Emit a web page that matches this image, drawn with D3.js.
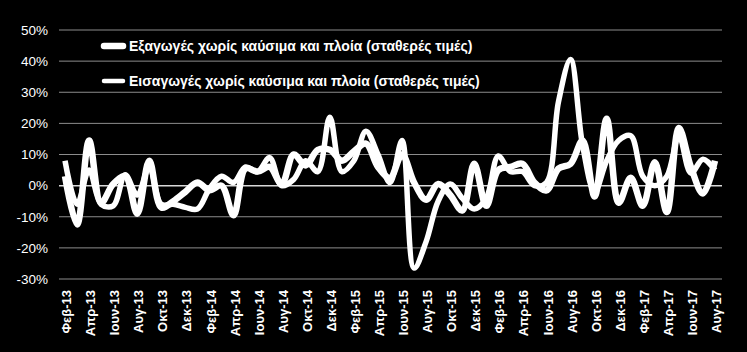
<!DOCTYPE html>
<html>
<head>
<meta charset="utf-8">
<script src="https://cdn.jsdelivr.net/npm/d3@7"></script>
<style>
  body { margin: 0; background: #000; }
  svg { display: block; }
</style>
</head>
<body>
<div id="chart"></div>
<script>
var width = 747
var height = 352

// months Feb-13 .. Aug-17
var monthNames = ["Ιαν", "Φεβ", "Μαρ", "Απρ", "Μαϊ", "Ιουν", "Ιουλ", "Αυγ", "Σεπ", "Οκτ", "Νοε", "Δεκ"]
var months = []
for (var y = 13, m = 1; months.length < 55; m++) {
    if (m == 12) { m = 0; y++; }
    months.push(monthNames[m] + "-" + y)
}

var exports = [3, -12.5, 14.5, -5.5, 0.5, 3, -9, 8, -7, -5,
    -2, 1, -1.5, 0, -9.5, 5.5, 4.5, 6, 0.5, 10,
    6.5, 11.5, 11.5, 8, 11, 13.5, 6, 2.5, 10, 1,
    -4.5, 0.5, -3, -8, 7, -6.5, 5, 6, 7, 1,
    -1.5, 5.5, 7, 14.5, -3.5, 21.5, -5.5, 2.5, -6.5, 7.5,
    -8.5, 18.5, 6, -2.5, 8]

var imports = [8, -6, 5, -6, -6.5, 3.5, -3, 6, -6, -6,
    -7, -7.5, -1, 3, 1, 6, 4.5, 9, 0, 2,
    8, 4.5, 22, 4.5, 8, 17.5, 10, 1, 14.5, -26.5,
    -18, -5, 0.5, -4, -7.5, -4, 9.5, 4.5, 4.5, 0,
    1, 27, 40.5, 13, -2, 8, 14.5, 16, 3, 0,
    3, 16, 4, 8.5, 5]

var yTicks = [-30, -20, -10, 0, 10, 20, 30, 40, 50]
var legendLabels = ["Εξαγωγές χωρίς καύσιμα και πλοία (σταθερές τιμές)",
    "Εισαγωγές χωρίς καύσιμα και πλοία (σταθερές τιμές)"]

var svg = d3.select("#chart").append("svg")
    .attr("width", width)
    .attr("height", height)
    .style("background", "#000")

var x = d3.scalePoint().domain(months).range([59, 721]).padding(0.5)
var yScale = d3.scaleLinear().domain([-30, 50]).range([279, 30])

// grid
svg.append("g").selectAll("line")
    .data(yTicks)
    .enter().append("line")
        .attr("x1", 59)
        .attr("x2", 722)
        .attr("y1", function(d) { return yScale(d); })
        .attr("y2", function(d) { return yScale(d); })
        .attr("stroke", function(d) { return d == 0 ? "#d9d9d9" : "#8c8c8c"; })
        .attr("stroke-width", function(d) { return d == 0 ? 1.5 : 1; })

var yAxis = svg.append("g")
    .attr("transform", "translate(48,0)")
    .call(d3.axisLeft(yScale).tickValues(yTicks).tickSize(0).tickPadding(0)
        .tickFormat(function(d) { return d + "%"; }))
yAxis.select(".domain").remove()
yAxis.selectAll("text")
    .attr("fill", "#fff")
    .style("font-family", "'Liberation Sans', Arial, sans-serif")
    .style("font-size", "13.5px")

var xAxis = svg.append("g")
    .attr("transform", "translate(1,290)")
    .call(d3.axisBottom(x).tickSize(0)
        .tickValues(months.filter(function(d, i) { return i % 2 == 0; })))
xAxis.select(".domain").remove()
xAxis.selectAll("text")
    .attr("fill", "#fff")
    .attr("transform", "rotate(-90)")
    .attr("x", 0)
    .attr("y", 0)
    .attr("dy", "0.35em")
    .attr("text-anchor", "end")
    .style("font-family", "'Liberation Sans', Arial, sans-serif")
    .style("font-size", "13px")
    .style("font-weight", "bold")

var line = d3.line()
    .x(function(d, i) { return x(months[i]); })
    .y(function(d) { return yScale(d); })
    .curve(d3.curveCatmullRom.alpha(0.5))

svg.append("path")
    .datum(imports)
    .attr("d", line)
    .attr("fill", "none")
    .attr("stroke", "#fff")
    .attr("stroke-width", 5.5)
    .attr("stroke-linejoin", "round")

svg.append("path")
    .datum(exports)
    .attr("d", line)
    .attr("fill", "none")
    .attr("stroke", "#fff")
    .attr("stroke-width", 6.5)
    .attr("stroke-linejoin", "round")

// legend
var legend = svg.append("g")
legend.selectAll("line")
    .data(legendLabels)
    .enter().append("line")
        .attr("x1", 104)
        .attr("x2", 123)
        .attr("y1", function(d, i) { return 46 + i * 35; })
        .attr("y2", function(d, i) { return 46 + i * 35; })
        .attr("stroke", "#fff")
        .attr("stroke-linecap", "round")
        .attr("stroke-width", function(d, i) { return i == 0 ? 6.5 : 4.5; })
legend.selectAll("text")
    .data(legendLabels)
    .enter().append("text")
        .attr("x", 129)
        .attr("y", function(d, i) { return 46 + i * 35; })
        .attr("dy", "0.35em")
        .attr("fill", "#fff")
        .style("font-family", "'Liberation Sans', Arial, sans-serif")
        .style("font-size", "14px")
        .style("font-weight", "bold")
        .text(function(d) { return d; })
</script>
</body>
</html>
